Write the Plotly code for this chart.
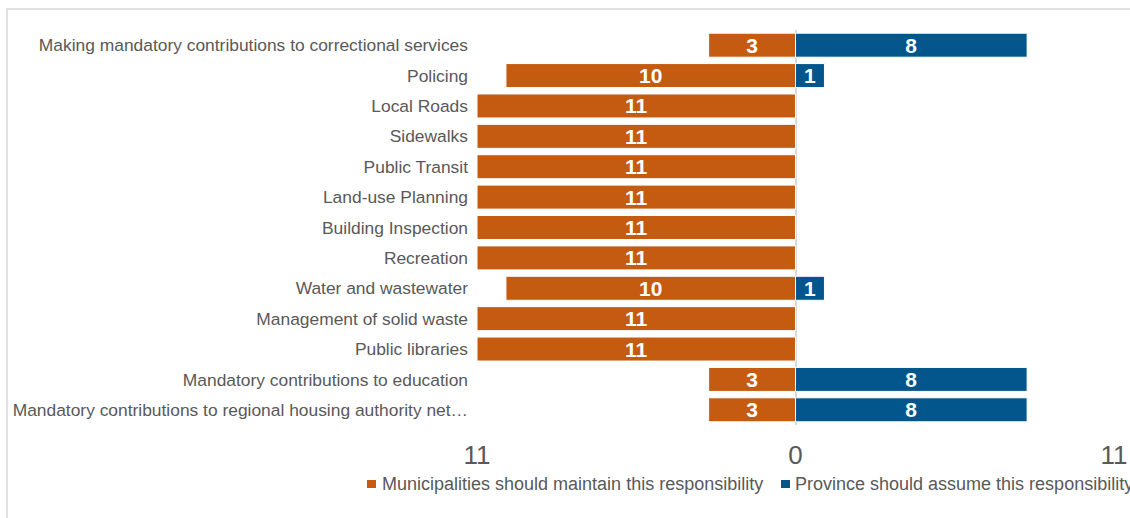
import plotly.graph_objects as go

# Responsibilities, listed top to bottom
categories = [
    "Making mandatory contributions to correctional services",
    "Policing",
    "Local Roads",
    "Sidewalks",
    "Public Transit",
    "Land-use Planning",
    "Building Inspection",
    "Recreation",
    "Water and wastewater",
    "Management of solid waste",
    "Public libraries",
    "Mandatory contributions to education",
    "Mandatory contributions to regional housing authority net…",
]
municipalities = [3, 10, 11, 11, 11, 11, 11, 11, 10, 11, 11, 3, 3]
province = [8, 1, 0, 0, 0, 0, 0, 0, 1, 0, 0, 8, 8]

series_names = [
    "Municipalities should maintain this responsibility",
    "Province should assume this responsibility",
]
x_tick_values = [-11, 0, 11]
x_tick_labels = ["11", "0", "11"]

ORANGE = "#C55A11"
BLUE = "#02568C"
GREY_TEXT = "#595959"
FONT = "Liberation Sans, Arial, sans-serif"

W, H = 1130, 518
M_L, M_R, M_T, M_B = 477, 16, 30, 93
PW, PH = W - M_L - M_R, H - M_T - M_B


def px_x(px):
    return (px - M_L) / PW


def px_y(py):
    return (H - M_B - py) / PH


label_font = dict(family=FONT, size=21, color="white", weight="bold")

fig = go.Figure()
fig.add_trace(go.Bar(
    y=categories,
    x=[-v for v in municipalities],
    orientation="h",
    name=series_names[0],
    marker=dict(color=ORANGE, line=dict(color="white", width=1)),
    text=[str(v) if v else "" for v in municipalities],
    textposition="inside",
    insidetextanchor="middle",
    textangle=0,
    constraintext="none",
    textfont=label_font,
    hoverinfo="skip",
))
fig.add_trace(go.Bar(
    y=categories,
    x=province,
    orientation="h",
    name=series_names[1],
    marker=dict(color=BLUE, line=dict(color="white", width=1)),
    text=[str(v) if v else "" for v in province],
    textposition="inside",
    insidetextanchor="middle",
    textangle=0,
    constraintext="none",
    textfont=label_font,
    hoverinfo="skip",
))

# Outer chart frame
shapes = [dict(
    type="rect", xref="paper", yref="paper",
    x0=px_x(7), x1=px_x(W + 20), y0=px_y(H + 20), y1=px_y(9),
    line=dict(color="#D9D9D9", width=1.5), fillcolor="rgba(0,0,0,0)",
)]

# Legend drawn as swatches plus labels
legend_items = [(series_names[0], ORANGE, 367, 376, 380),
                (series_names[1], BLUE, 781, 790, 793)]
annotations = []
for name, color, sx0, sx1, tx in legend_items:
    shapes.append(dict(
        type="rect", xref="paper", yref="paper",
        x0=px_x(sx0), x1=px_x(sx1), y0=px_y(488), y1=px_y(480),
        line=dict(width=0), fillcolor=color,
    ))
    annotations.append(dict(
        text=name, xref="paper", yref="paper",
        x=px_x(tx), y=px_y(484), xanchor="left", yanchor="middle",
        showarrow=False, font=dict(family=FONT, size=18, color=GREY_TEXT),
    ))

fig.update_layout(
    width=W, height=H,
    margin=dict(l=M_L, r=M_R, t=M_T, b=M_B, autoexpand=False),
    paper_bgcolor="white", plot_bgcolor="white",
    barmode="relative", bargap=0.21,
    showlegend=False,
    shapes=shapes,
    annotations=annotations,
    xaxis=dict(
        range=[-11, 11], tickvals=x_tick_values, ticktext=x_tick_labels,
        showgrid=False, zeroline=True, zerolinecolor="#D9D9D9", zerolinewidth=1.5,
        showline=False, ticks="", ticklabelstandoff=12,
        tickfont=dict(family=FONT, size=26, color=GREY_TEXT),
        fixedrange=True,
    ),
    yaxis=dict(
        categoryorder="array", categoryarray=categories, autorange="reversed",
        showgrid=False, zeroline=False, showline=False, ticks="",
        ticklabelstandoff=8,
        tickfont=dict(family=FONT, size=17.4, color=GREY_TEXT),
        fixedrange=True,
    ),
)

fig.write_html("out.html")
